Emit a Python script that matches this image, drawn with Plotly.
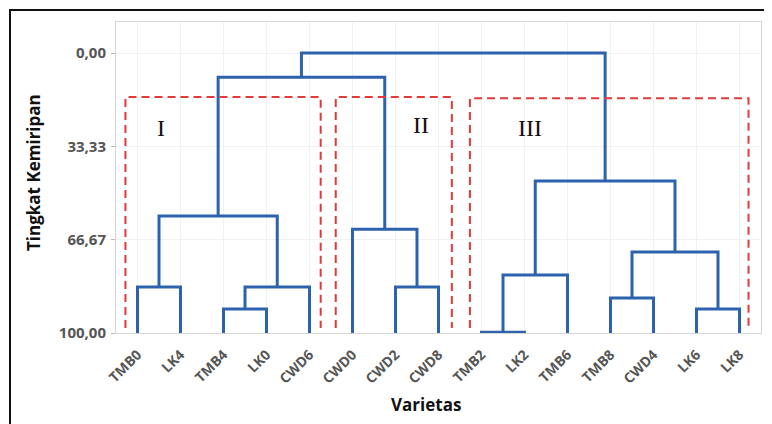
import plotly.graph_objects as go

# ---- data ----
leaves = ["TMB0", "LK4", "TMB4", "LK0", "CWD6", "CWD0", "CWD2", "CWD8",
          "TMB2", "LK2", "TMB6", "TMB8", "CWD4", "LK6", "LK8"]
# merges: (left cluster id, right cluster id, similarity level); new ids start at len(leaves)
merge_left = [2, 8, 13, 11, 0, 15, 6, 16, 18, 5, 19, 22, 25, 27]
merge_right = [3, 9, 14, 12, 1, 4, 7, 10, 17, 21, 20, 23, 24, 26]
merge_level = [91.4, 99.7, 91.4, 87.5, 83.6, 83.6, 83.6, 79.3, 71.1, 62.9, 58.2, 45.7, 8.6, 0.0]
y_ticks = [0.0, 33.33, 66.67, 100.0]
y_tick_text = ["0,00", "33,33", "66,67", "100,00"]
groups = ["I", "II", "III"]
group_first = [0, 5, 8]
group_last = [4, 7, 14]

# ---- build dendrogram path ----
n = len(leaves)
pos = {i: float(i) for i in range(n)}
lev = {i: 100.0 for i in range(n)}
xs, ys = [], []
for k, (a, b, h) in enumerate(zip(merge_left, merge_right, merge_level)):
    cid = n + k
    xs += [pos[a], pos[a], pos[b], pos[b], None]
    ys += [lev[a], h, h, lev[b], None]
    pos[cid] = (pos[a] + pos[b]) / 2
    lev[cid] = h

fig = go.Figure()

# group boxes (open at the bottom)
box_pad_left = [0.28, 0.39, 0.27]
box_pad_right = [0.26, 0.31, 0.21]
box_top = [15.7, 15.7, 16.1]
box_bottom = 98.2
for g, f, l, pl, pr, t in zip(groups, group_first, group_last, box_pad_left, box_pad_right, box_top):
    x0, x1 = f - pl, l + pr
    fig.add_shape(type="path", xref="x", yref="y",
                  path=f"M {x0} {box_bottom} L {x0} {t} L {x1} {t} L {x1} {box_bottom}",
                  line=dict(color="#e03a3a", width=2, dash="8px,5px"))

fig.add_trace(go.Scatter(x=xs, y=ys, mode="lines",
                         line=dict(color="#2d62ad", width=3),
                         hoverinfo="skip", showlegend=False))

label_x = [0.54, 6.59, 9.13]
label_y = [26.8, 25.7, 26.8]
for g, lx, ly in zip(groups, label_x, label_y):
    fig.add_annotation(x=lx, y=ly, xref="x", yref="y", text=g, showarrow=False,
                       font=dict(family="Liberation Serif", size=24, color="#111"))

# axis titles
fig.add_annotation(x=(426 - 116) / 645, y=(333 - 404) / 311, xref="paper", yref="paper",
                   xanchor="center", yanchor="middle",
                   text="Varietas", showarrow=False,
                   font=dict(family="Open Sans", size=17, color="#111", weight="bold"))
fig.add_annotation(x=(33 - 116) / 645, y=(333 - 172) / 311, xref="paper", yref="paper",
                   xanchor="center", yanchor="middle",
                   text="Tingkat Kemiripan", showarrow=False, textangle=-90,
                   font=dict(family="Open Sans", size=17, color="#111", weight="bold"))

# outer border
fig.add_shape(type="rect", xref="paper", yref="paper",
              x0=(10 - 116) / 645, x1=(790 - 116) / 645,
              y0=(333 - 450) / 311, y1=(333 - 10) / 311,
              line=dict(color="#111", width=2), layer="below")

fig.update_layout(
    width=764, height=416,
    margin=dict(l=108, r=11, t=14, b=91),
    paper_bgcolor="white", plot_bgcolor="white",
    xaxis=dict(range=[-0.5, n - 0.5], tickmode="array",
               tickvals=list(range(n)), ticktext=leaves, tickangle=-45,
               tickfont=dict(family="Open Sans", size=14, color="#555", weight="bold"),
               showgrid=True, gridcolor="#f1f1f1", zeroline=False,
               showline=True, linecolor="#d6d6d6", linewidth=1, mirror=True,
               ticks="", ticklabelstandoff=7, automargin=False, fixedrange=True),
    yaxis=dict(range=[100, -11.1], tickmode="array", tickvals=y_ticks, ticktext=y_tick_text,
               tickfont=dict(family="Open Sans", size=15, color="#555", weight="bold"),
               showgrid=True, gridcolor="#f1f1f1", zeroline=False,
               showline=True, linecolor="#d6d6d6", linewidth=1, mirror=True,
               ticks="outside", ticklen=4, tickcolor="#bbb", ticklabelstandoff=2,
               automargin=False, fixedrange=True),
)

fig.write_html("out.html")
